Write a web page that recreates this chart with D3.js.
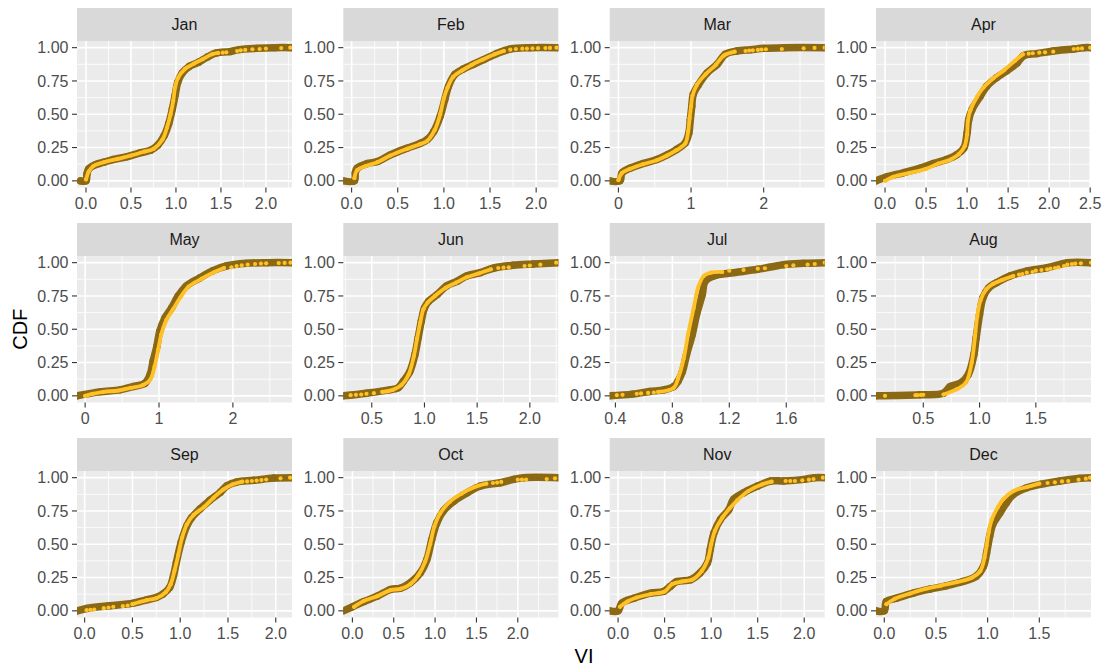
<!DOCTYPE html>
<html>
<head>
<meta charset="utf-8">
<script src="https://cdn.jsdelivr.net/npm/d3@7"></script>
<style>
  body { margin: 0; background: #ffffff; }
  text { font-family: "Liberation Sans", Arial, Helvetica, sans-serif; }
</style>
</head>
<body>
<svg id="chart" width="1107" height="670"></svg>
<script>
// ---- data -------------------------------------------------------------
const months = ["Jan","Feb","Mar","Apr","May","Jun","Jul","Aug","Sep","Oct","Nov","Dec"];

// visible VI range of each facet
const xLimits = [
  [-0.10, 2.29], [-0.09, 2.24], [-0.12, 2.84], [-0.11, 2.51],
  [-0.11, 2.80], [0.23, 2.27], [0.36, 1.87], [0.08, 1.99],
  [-0.08, 2.17], [-0.11, 2.49], [-0.09, 2.22], [-0.08, 2.00]
];

// x tick labels of each facet
const xBreaks = [
  [0, 0.5, 1, 1.5, 2], [0, 0.5, 1, 1.5, 2], [0, 1, 2], [0, 0.5, 1, 1.5, 2, 2.5],
  [0, 1, 2], [0.5, 1, 1.5, 2], [0.4, 0.8, 1.2, 1.6], [0.5, 1, 1.5],
  [0, 0.5, 1, 1.5, 2], [0, 0.5, 1, 1.5, 2], [0, 0.5, 1, 1.5, 2], [0, 0.5, 1, 1.5]
];

const cdfBreaks = [0, 0.25, 0.5, 0.75, 1];

// observed CDF, [VI, CDF]
const darkCurves = [
  [[-0.06,0],[0.0,0.0],[0.01,0.05],[0.03,0.09],[0.1,0.12],[0.2,0.14],[0.3,0.16],[0.45,0.18],[0.6,0.21],[0.72,0.23],[0.8,0.27],[0.87,0.34],[0.92,0.43],[0.96,0.54],[0.99,0.64],[1.02,0.74],[1.07,0.81],[1.15,0.86],[1.25,0.89],[1.35,0.93],[1.45,0.96],[1.6,0.97],[1.7,0.985],[1.9,0.995],[2.1,1.0],[2.3,1.0]],
  [[-0.09,0],[0.03,0.0],[0.04,0.06],[0.06,0.095],[0.17,0.13],[0.28,0.145],[0.42,0.195],[0.6,0.245],[0.74,0.28],[0.82,0.31],[0.89,0.37],[0.96,0.485],[1.01,0.61],[1.05,0.71],[1.12,0.8],[1.21,0.84],[1.32,0.875],[1.43,0.91],[1.57,0.955],[1.72,0.99],[1.93,1.0],[2.24,1.0]],
  [[-0.12,0],[0.02,0.0],[0.05,0.06],[0.16,0.095],[0.34,0.13],[0.53,0.16],[0.67,0.195],[0.8,0.235],[0.92,0.285],[0.97,0.36],[0.99,0.46],[1.01,0.56],[1.03,0.65],[1.1,0.72],[1.22,0.81],[1.36,0.875],[1.47,0.95],[1.63,0.975],[1.82,0.985],[2.0,0.995],[2.28,1.0],[2.85,1.0]],
  [[-0.11,0.0],[0.02,0.03],[0.22,0.06],[0.43,0.095],[0.59,0.13],[0.75,0.16],[0.87,0.195],[0.96,0.245],[1.0,0.36],[1.02,0.46],[1.06,0.535],[1.16,0.635],[1.24,0.71],[1.36,0.775],[1.48,0.825],[1.61,0.885],[1.69,0.94],[1.85,0.955],[2.05,0.975],[2.3,0.99],[2.42,1.0],[2.52,1.0]],
  [[-0.11,0.0],[0.2,0.03],[0.47,0.045],[0.65,0.07],[0.81,0.095],[0.88,0.16],[0.92,0.26],[0.97,0.37],[1.01,0.485],[1.08,0.585],[1.17,0.66],[1.26,0.75],[1.37,0.825],[1.55,0.885],[1.73,0.94],[1.91,0.975],[2.18,0.995],[2.46,1.0],[2.81,1.0]],
  [[0.23,0.0],[0.45,0.02],[0.67,0.045],[0.75,0.06],[0.8,0.11],[0.86,0.18],[0.91,0.31],[0.94,0.435],[0.97,0.56],[1.0,0.66],[1.04,0.71],[1.12,0.76],[1.21,0.825],[1.31,0.86],[1.4,0.9],[1.53,0.925],[1.66,0.96],[1.84,0.98],[2.03,0.99],[2.27,1.0]],
  [[0.36,0.0],[0.52,0.013],[0.64,0.033],[0.74,0.045],[0.81,0.07],[0.84,0.11],[0.87,0.18],[0.9,0.31],[0.94,0.46],[0.97,0.61],[1.01,0.76],[1.03,0.86],[1.09,0.9],[1.23,0.925],[1.4,0.95],[1.58,0.985],[1.72,0.995],[1.88,1.0]],
  [[0.08,0.0],[0.47,0.008],[0.68,0.02],[0.74,0.07],[0.83,0.095],[0.9,0.16],[0.95,0.31],[0.97,0.435],[1.0,0.61],[1.03,0.736],[1.08,0.81],[1.15,0.85],[1.27,0.9],[1.42,0.937],[1.6,0.962],[1.78,1.0],[1.99,1.0]],
  [[-0.08,0.0],[0.02,0.018],[0.26,0.038],[0.51,0.058],[0.65,0.083],[0.75,0.1],[0.82,0.126],[0.89,0.176],[0.93,0.264],[0.96,0.364],[1.01,0.515],[1.07,0.64],[1.12,0.7],[1.21,0.766],[1.31,0.83],[1.42,0.89],[1.49,0.94],[1.59,0.967],[1.77,0.98],[1.98,0.997],[2.18,1.0]],
  [[-0.11,0.0],[0.0,0.03],[0.14,0.07],[0.3,0.11],[0.46,0.16],[0.58,0.17],[0.7,0.21],[0.82,0.284],[0.9,0.384],[0.96,0.535],[1.02,0.66],[1.1,0.75],[1.23,0.824],[1.39,0.887],[1.55,0.937],[1.79,0.962],[1.95,0.987],[2.07,1.0],[2.5,1.0]],
  [[-0.09,0.0],[0.0,0.0],[0.04,0.058],[0.17,0.095],[0.35,0.133],[0.49,0.146],[0.56,0.183],[0.63,0.22],[0.78,0.234],[0.88,0.284],[0.96,0.36],[0.99,0.46],[1.03,0.585],[1.1,0.686],[1.19,0.76],[1.24,0.837],[1.35,0.887],[1.5,0.937],[1.64,0.975],[1.78,0.975],[2.0,0.987],[2.11,1.0],[2.23,1.0]],
  [[-0.08,0.0],[0.0,0.0],[0.02,0.07],[0.12,0.095],[0.28,0.133],[0.44,0.163],[0.6,0.188],[0.76,0.22],[0.89,0.26],[0.96,0.334],[0.99,0.435],[1.02,0.56],[1.05,0.65],[1.12,0.736],[1.18,0.81],[1.25,0.875],[1.38,0.925],[1.51,0.95],[1.7,0.975],[1.89,0.995],[2.0,1.0]]
];

// fitted CDF, dense part, [VI, CDF]
const lightCurves = [
  [[0.0,0.01],[0.03,0.07],[0.08,0.11],[0.2,0.14],[0.35,0.165],[0.5,0.19],[0.65,0.22],[0.75,0.24],[0.85,0.31],[0.9,0.4],[0.94,0.5],[0.97,0.6],[0.99,0.7],[1.02,0.77],[1.1,0.84],[1.2,0.88],[1.3,0.915],[1.4,0.95],[1.47,0.96]],
  [[0.03,0.02],[0.06,0.08],[0.15,0.11],[0.28,0.14],[0.42,0.19],[0.6,0.24],[0.74,0.275],[0.82,0.3],[0.9,0.38],[0.96,0.5],[1.0,0.62],[1.04,0.7],[1.1,0.78],[1.2,0.83],[1.3,0.87],[1.42,0.91],[1.55,0.95],[1.65,0.975]],
  [[0.0,0.005],[0.05,0.06],[0.16,0.09],[0.34,0.125],[0.53,0.155],[0.67,0.19],[0.8,0.23],[0.92,0.28],[0.96,0.37],[0.98,0.47],[1.0,0.56],[1.02,0.64],[1.08,0.72],[1.2,0.8],[1.34,0.87],[1.45,0.94],[1.6,0.97]],
  [[0.0,0.0],[0.1,0.03],[0.3,0.06],[0.5,0.09],[0.65,0.13],[0.8,0.16],[0.9,0.2],[0.97,0.26],[1.0,0.35],[1.01,0.45],[1.04,0.53],[1.12,0.63],[1.2,0.7],[1.32,0.77],[1.45,0.83],[1.58,0.9],[1.68,0.95]],
  [[0.0,0.0],[0.1,0.015],[0.25,0.03],[0.45,0.04],[0.62,0.06],[0.78,0.08],[0.88,0.12],[0.94,0.22],[0.99,0.35],[1.03,0.46],[1.1,0.57],[1.19,0.65],[1.29,0.74],[1.4,0.82],[1.58,0.88],[1.75,0.93],[1.88,0.96]],
  [[0.6,0.03],[0.7,0.045],[0.78,0.08],[0.85,0.16],[0.9,0.3],[0.93,0.43],[0.96,0.55],[0.99,0.65],[1.03,0.7],[1.1,0.75],[1.2,0.81],[1.3,0.85],[1.4,0.89],[1.52,0.92],[1.63,0.95]],
  [[0.7,0.03],[0.81,0.06],[0.84,0.13],[0.88,0.28],[0.91,0.46],[0.95,0.66],[0.98,0.81],[1.02,0.9],[1.07,0.925],[1.15,0.93]],
  [[0.68,0.01],[0.8,0.05],[0.88,0.1],[0.93,0.25],[0.96,0.45],[0.98,0.6],[1.01,0.72],[1.06,0.8],[1.12,0.84],[1.2,0.87],[1.3,0.9]],
  [[0.5,0.05],[0.65,0.08],[0.75,0.095],[0.85,0.14],[0.9,0.2],[0.94,0.3],[0.98,0.42],[1.02,0.55],[1.07,0.65],[1.14,0.72],[1.25,0.78],[1.35,0.85],[1.45,0.91],[1.55,0.95],[1.65,0.97]],
  [[0.02,0.03],[0.14,0.075],[0.3,0.11],[0.46,0.155],[0.58,0.165],[0.7,0.2],[0.8,0.27],[0.88,0.37],[0.94,0.5],[0.99,0.63],[1.06,0.73],[1.18,0.82],[1.32,0.88],[1.48,0.93],[1.62,0.955]],
  [[0.02,0.03],[0.1,0.07],[0.2,0.1],[0.35,0.125],[0.5,0.145],[0.58,0.2],[0.68,0.22],[0.8,0.235],[0.9,0.3],[0.97,0.4],[1.0,0.5],[1.04,0.6],[1.12,0.7],[1.2,0.77],[1.28,0.83],[1.4,0.9],[1.55,0.95],[1.65,0.97]],
  [[0.02,0.05],[0.1,0.09],[0.25,0.13],[0.4,0.165],[0.55,0.19],[0.7,0.215],[0.85,0.25],[0.93,0.3],[0.97,0.4],[0.99,0.49],[1.01,0.59],[1.04,0.686],[1.1,0.78],[1.15,0.837],[1.25,0.9],[1.38,0.93],[1.5,0.955]]
];

// fitted CDF, sparse tail points, [VI, CDF]
const lightTails = [
  [[1.52,0.962],[1.56,0.965],[1.68,0.975],[1.72,0.98],[1.77,0.983],[1.85,0.988],[1.93,0.99],[2.0,0.993],[2.17,0.997],[2.27,1.0]],
  [[1.72,0.985],[1.78,0.99],[1.85,0.992],[1.9,0.993],[1.96,0.995],[2.02,0.996],[2.1,0.997],[2.15,0.998],[2.22,1.0]],
  [[1.75,0.975],[1.8,0.978],[1.85,0.98],[1.92,0.983],[1.97,0.986],[2.03,0.988],[2.25,0.99],[2.55,0.995],[2.7,0.998],[2.84,1.0]],
  [[1.75,0.955],[1.8,0.958],[1.88,0.962],[1.95,0.965],[2.05,0.97],[2.3,0.99],[2.35,0.992],[2.4,0.994],[2.5,1.0]],
  [[1.98,0.965],[2.05,0.975],[2.12,0.98],[2.2,0.985],[2.3,0.99],[2.38,0.993],[2.45,0.995],[2.62,0.997],[2.7,0.998],[2.78,1.0]],
  [[0.3,0.005],[0.35,0.008],[0.4,0.01],[0.45,0.015],[0.52,0.02],[1.7,0.96],[1.75,0.962],[1.8,0.965],[1.95,0.975],[2.0,0.978],[2.1,0.985],[2.25,1.0]],
  [[0.41,0.005],[0.45,0.008],[0.55,0.015],[0.58,0.018],[0.63,0.022],[0.67,0.025],[1.2,0.94],[1.3,0.945],[1.4,0.955],[1.45,0.958],[1.6,0.975],[1.65,0.98],[1.75,0.985],[1.8,0.99],[1.87,1.0]],
  [[0.16,0.0],[0.43,0.005],[0.45,0.005],[0.48,0.007],[0.5,0.008],[1.35,0.91],[1.38,0.915],[1.42,0.925],[1.47,0.93],[1.5,0.94],[1.55,0.945],[1.6,0.95],[1.63,0.955],[1.67,0.96],[1.7,0.965],[1.75,0.975],[1.78,0.985],[1.82,0.99],[1.85,0.992],[1.9,0.995],[1.99,1.0]],
  [[0.02,0.005],[0.06,0.008],[0.1,0.01],[0.2,0.02],[0.25,0.025],[0.3,0.03],[0.4,0.035],[0.45,0.04],[1.7,0.972],[1.75,0.975],[1.8,0.978],[1.85,0.982],[1.9,0.986],[2.05,0.995],[2.15,1.0]],
  [[1.7,0.96],[1.75,0.963],[1.8,0.968],[2.0,0.985],[2.05,0.985],[2.1,0.986],[2.35,0.99],[2.45,0.995]],
  [[1.8,0.975],[1.85,0.975],[1.9,0.975],[1.98,0.98],[2.05,0.985],[2.1,0.99],[2.2,1.0]],
  [[1.58,0.96],[1.65,0.965],[1.72,0.972],[1.78,0.975],[1.88,0.985],[1.95,0.992],[1.99,1.0]]
];

// ---- layout -------------------------------------------------------------
const svg = d3.select("#chart");
const panelW = 215, panelH = 146.5, stripH = 33;
const colX = [77, 343.3, 609.7, 876];
const rowTop = [8, 223, 438];
const darkColor = "#8B6914", lightColor = "#FFC125";

svg.append("rect").attr("width", 1107).attr("height", 670).attr("fill", "#ffffff");

function minorBreaks(breaks, dom) {
  const step = breaks[1] - breaks[0];
  const ext = [breaks[0] - step, ...breaks, breaks[breaks.length - 1] + step];
  const out = [];
  for (let i = 0; i < ext.length - 1; i++) out.push((ext[i] + ext[i + 1]) / 2);
  return out.filter(v => v >= dom[0] && v <= dom[1]);
}

const yFmt = d3.format(".2f");

months.forEach((m, i) => {
  const col = i % 4, row = Math.floor(i / 4);
  const px = colX[col], st = rowTop[row], py = st + stripH;
  const x = d3.scaleLinear().domain(xLimits[i]).range([px, px + panelW]);
  const y = d3.scaleLinear().domain([-0.05, 1.05]).range([py + panelH, py]);
  const g = svg.append("g");

  // strip
  g.append("rect").attr("x", px).attr("y", st).attr("width", panelW).attr("height", stripH)
    .attr("fill", "#D9D9D9");
  g.append("text").attr("x", px + panelW / 2).attr("y", st + stripH / 2 + 5.5)
    .attr("text-anchor", "middle").attr("font-size", 16).attr("fill", "#1A1A1A").text(m);

  // panel background
  g.append("rect").attr("x", px).attr("y", py).attr("width", panelW).attr("height", panelH)
    .attr("fill", "#EBEBEB");

  // grid
  const xb = xBreaks[i];
  const xMinor = minorBreaks(xb, xLimits[i]);
  const yMinor = minorBreaks(cdfBreaks, y.domain());
  g.selectAll(null).data(yMinor).join("line")
    .attr("x1", px).attr("x2", px + panelW).attr("y1", d => y(d)).attr("y2", d => y(d))
    .attr("stroke", "#ffffff").attr("stroke-width", 0.8);
  g.selectAll(null).data(xMinor).join("line")
    .attr("y1", py).attr("y2", py + panelH).attr("x1", d => x(d)).attr("x2", d => x(d))
    .attr("stroke", "#ffffff").attr("stroke-width", 0.8);
  g.selectAll(null).data(cdfBreaks).join("line")
    .attr("x1", px).attr("x2", px + panelW).attr("y1", d => y(d)).attr("y2", d => y(d))
    .attr("stroke", "#ffffff").attr("stroke-width", 1.6);
  g.selectAll(null).data(xb).join("line")
    .attr("y1", py).attr("y2", py + panelH).attr("x1", d => x(d)).attr("x2", d => x(d))
    .attr("stroke", "#ffffff").attr("stroke-width", 1.6);

  // data marks, clipped to the panel
  const clipId = "clip-" + m;
  svg.append("clipPath").attr("id", clipId).append("rect")
    .attr("x", px).attr("y", py).attr("width", panelW).attr("height", panelH);
  const marks = g.append("g").attr("clip-path", `url(#${clipId})`);
  const line = d3.line().x(d => x(d[0])).y(d => y(d[1])).curve(d3.curveCatmullRom.alpha(0.5));

  marks.append("path").datum(darkCurves[i]).attr("d", line)
    .attr("fill", "none").attr("stroke", darkColor).attr("stroke-width", 7.5)
    .attr("stroke-linejoin", "round").attr("stroke-linecap", "round");
  marks.selectAll(null).data(darkCurves[i]).join("circle")
    .attr("cx", d => x(d[0])).attr("cy", d => y(d[1])).attr("r", 3.7).attr("fill", darkColor);

  marks.append("path").datum(lightCurves[i]).attr("d", line)
    .attr("fill", "none").attr("stroke", lightColor).attr("stroke-width", 3.8)
    .attr("stroke-linejoin", "round").attr("stroke-linecap", "round");
  marks.selectAll(null).data(lightCurves[i].concat(lightTails[i])).join("circle")
    .attr("cx", d => x(d[0])).attr("cy", d => y(d[1])).attr("r", 2.1).attr("fill", lightColor);

  // y axis
  const ya = g.append("g");
  ya.selectAll(null).data(cdfBreaks).join("line")
    .attr("x1", px - 5).attr("x2", px).attr("y1", d => y(d)).attr("y2", d => y(d))
    .attr("stroke", "#333333").attr("stroke-width", 1.1);
  ya.selectAll(null).data(cdfBreaks).join("text")
    .attr("x", px - 8.5).attr("y", d => y(d) + 5.6).attr("text-anchor", "end")
    .attr("font-size", 16).attr("fill", "#4D4D4D").text(d => yFmt(d));

  // x axis
  const xFmt = xb.every(Number.isInteger) ? d3.format("d") : d3.format(".1f");
  const xa = g.append("g");
  xa.selectAll(null).data(xb).join("line")
    .attr("x1", d => x(d)).attr("x2", d => x(d)).attr("y1", py + panelH).attr("y2", py + panelH + 5)
    .attr("stroke", "#333333").attr("stroke-width", 1.1);
  xa.selectAll(null).data(xb).join("text")
    .attr("x", d => x(d)).attr("y", py + panelH + 21).attr("text-anchor", "middle")
    .attr("font-size", 16).attr("fill", "#4D4D4D").text(d => xFmt(d));
});

// axis titles
svg.append("text").attr("x", (colX[0] + colX[3] + panelW) / 2).attr("y", 663)
  .attr("text-anchor", "middle").attr("font-size", 20).attr("fill", "#000000").text("VI");
svg.append("text")
  .attr("transform", `translate(26.5,${(rowTop[0] + stripH + rowTop[2] + stripH + panelH) / 2}) rotate(-90)`)
  .attr("text-anchor", "middle").attr("font-size", 20).attr("fill", "#000000").text("CDF");
</script>
</body>
</html>
